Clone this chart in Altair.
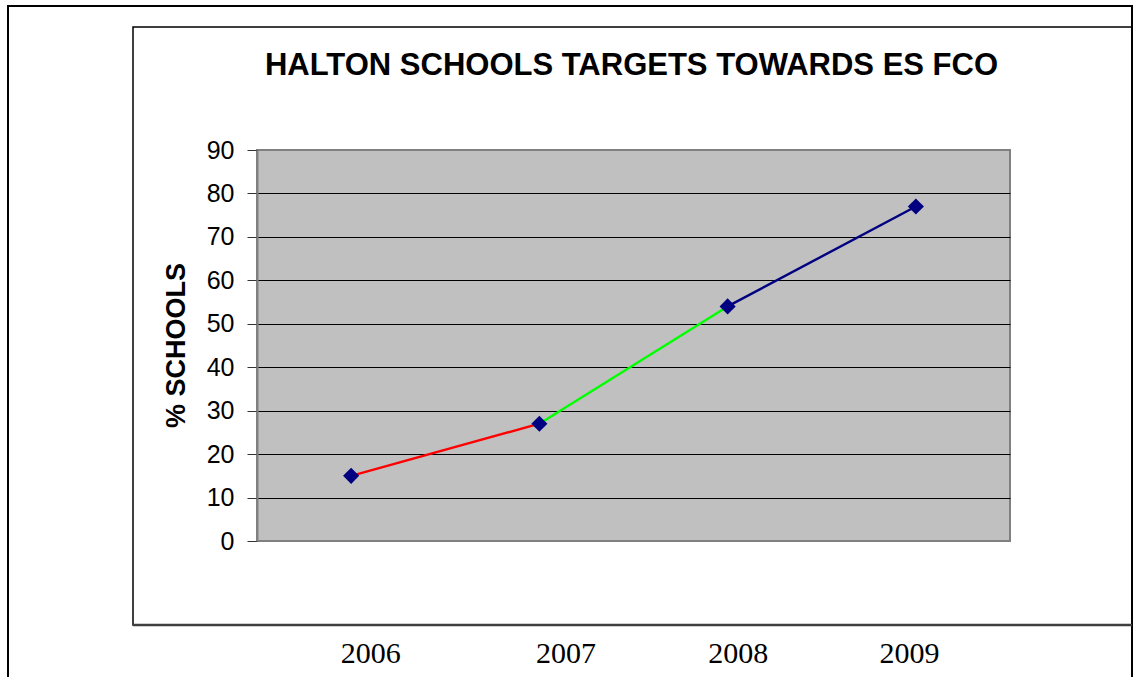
import altair as alt
import pandas as pd

# ---- data ----
years = ["2006", "2007", "2008", "2009"]
pct_schools = [15, 27, 54, 77]
segment_names = ["2006-2007", "2007-2008", "2008-2009"]
segment_colors = ["#FF0000", "#00FF00", "#000080"]
y_ticks = [0, 10, 20, 30, 40, 50, 60, 70, 80, 90]
chart_title = "HALTON SCHOOLS TARGETS TOWARDS ES FCO"

points = pd.DataFrame({"year": years, "pct": pct_schools})

seg_rows = []
for i, name in enumerate(segment_names):
    seg_rows.append({"year": years[i], "pct": pct_schools[i], "seg": name})
    seg_rows.append({"year": years[i + 1], "pct": pct_schools[i + 1], "seg": name})
segments = pd.DataFrame(seg_rows)

PLOT_W, PLOT_H = 753, 391
PAD_L, PAD_T = 257, 150

x_enc = alt.X(
    "year:O",
    sort=years,
    scale=alt.Scale(domain=years),
    axis=alt.Axis(
        title=None,
        orient="bottom",
        domain=False,
        ticks=False,
        grid=False,
        labelAngle=0,
        labelFont="Liberation Serif",
        labelFontSize=30,
        labelColor="#000000",
        labelPadding=97,
        labelOffset={
            "condition": [
                {"test": "datum.value == '2006'", "value": 19},
                {"test": "datum.value == '2007'", "value": 26},
                {"test": "datum.value == '2008'", "value": 10},
                {"test": "datum.value == '2009'", "value": -7},
            ],
            "value": 0,
        },
    ),
)

y_enc = alt.Y(
    "pct:Q",
    scale=alt.Scale(domain=[0, 90], nice=False, zero=True),
    axis=alt.Axis(
        title="% SCHOOLS",
        values=y_ticks,
        titleFont="Liberation Sans",
        titleFontSize=27,
        titleFontWeight="bold",
        titleColor="#000000",
        titleAngle=270,
        titleAlign="center",
        titleBaseline="middle",
        titleX=-81,
        titleY=195,
        labelFont="Liberation Sans",
        labelFontSize=25,
        labelColor="#000000",
        labelPadding=13,
        tickSize=10,
        tickColor="#333333",
        tickWidth=1,
        domainColor="#808080",
        domainWidth=2,
        grid=True,
        gridColor={
            "condition": {"test": "datum.value == 0 || datum.value == 90", "value": "#808080"},
            "value": "#000000",
        },
        gridWidth=1,
        gridOpacity=1,
    ),
)

frame_data = alt.Data(values=[{}])

outer_box = alt.Chart(frame_data).mark_rect(
    fill=None, stroke="#000000", strokeWidth=2
).encode(
    x=alt.value(8 - PAD_L), x2=alt.value(1132 - PAD_L),
    y=alt.value(6 - PAD_T), y2=alt.value(720 - PAD_T),
)

inner_box = alt.Chart(frame_data).mark_rect(
    fill=None, stroke="#000000", strokeWidth=1.5
).encode(
    x=alt.value(133 - PAD_L), x2=alt.value(1132 - PAD_L),
    y=alt.value(27 - PAD_T), y2=alt.value(625 - PAD_T),
)

inner_bottom = alt.Chart(frame_data).mark_rule(
    stroke="#404040", strokeWidth=2.5
).encode(
    x=alt.value(133 - PAD_L), x2=alt.value(1132 - PAD_L),
    y=alt.value(625 - PAD_T),
)

title_text = alt.Chart(alt.Data(values=[{"t": chart_title}])).mark_text(
    font="Liberation Sans", fontSize=31, fontWeight="bold", color="#000000",
    align="center", baseline="middle",
).encode(
    x=alt.value(PLOT_W / 2 - 2), y=alt.value(66 - PAD_T), text="t:N",
)

lines = alt.Chart(segments).mark_line(strokeWidth=2.4).encode(
    x=x_enc,
    y=y_enc,
    detail="seg:N",
    color=alt.Color("seg:N", scale=alt.Scale(domain=segment_names, range=segment_colors), legend=None),
)

markers = alt.Chart(points).mark_point(
    shape="diamond", filled=True, color="#000080", opacity=1, size=260
).encode(x=x_enc, y=y_enc)

chart = alt.layer(outer_box, inner_box, inner_bottom, title_text, lines, markers).properties(
    width=PLOT_W,
    height=PLOT_H,
    autosize=alt.AutoSizeParams(type="none"),
    padding={"left": PAD_L, "top": PAD_T, "right": 1134 - PAD_L - PLOT_W, "bottom": 677 - PAD_T - PLOT_H},
    background="#FFFFFF",
).configure_view(
    fill="#C0C0C0", stroke="#808080", strokeWidth=2
)

chart.save("out.html", embed_options={"renderer": "svg", "actions": False})
